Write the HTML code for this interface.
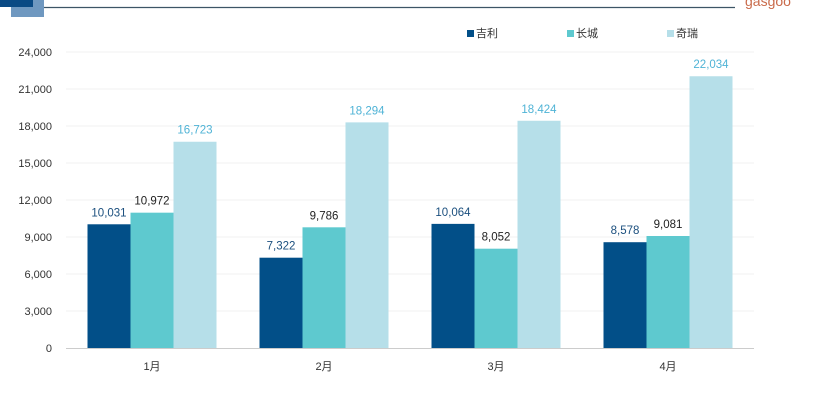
<!DOCTYPE html>
<html><head><meta charset="utf-8"><style>
body{margin:0;background:#fff;}
svg{display:block;font-family:"Liberation Sans","Noto Sans CJK SC",sans-serif;}
</style></head><body>
<svg id="c" width="820" height="400">
<rect x="11" y="0" width="33" height="17" fill="#6f98c0"/>
<rect x="0" y="0" width="33" height="7" fill="#0a4a84"/>
<line x1="44" y1="7.5" x2="735" y2="7.5" stroke="#3d5566" stroke-width="1.2"/>
<text x="745" y="6" font-size="14" fill="#c96a4a">gasgoo</text>
<g id="grid"></g><g id="bars"></g><g id="labels"></g>
<g id="legend"></g>
</svg>
<script>
const categories=["1月","2月","3月","4月"];
const seriesNames=["吉利","长城","奇瑞"];
const geely=[10031,7322,10064,8578];
const greatwall=[10972,9786,8052,9081];
const chery=[16723,18294,18424,22034];
const yTicks=[0,3000,6000,9000,12000,15000,18000,21000,24000];
const colors=["#024f88","#5ec9cf","#b6dfe9"];
const labelColors=["#1b4f7e","#222","#4fb3d6"];
const ns="http://www.w3.org/2000/svg";
const y0=348,y1=52,vmax=24000,x0=66,groupW=172,barW=43;
const y=v=>y0-(v/vmax)*(y0-y1);
const gx=i=>x0+i*groupW+groupW/2;
function mk(t,a,p){const e=document.createElementNS(ns,t);for(const k in a)e.setAttribute(k,a[k]);p.appendChild(e);return e;}
const grid=document.getElementById('grid'),bars=document.getElementById('bars'),labels=document.getElementById('labels'),legend=document.getElementById('legend');
yTicks.forEach(t=>{
 if(t>0){const l=mk('line',{x1:x0,x2:754,y1:y(t),y2:y(t),stroke:'#f0f0f0'},grid);
 
 }
 const tx=mk('text',{x:52,y:y(t)+4,'text-anchor':'end','font-size':11,fill:'#333'},grid);
 tx.textContent=t.toLocaleString('en-US');
 
 
});
const ax=mk('line',{x1:x0,x2:754,y1:y0+0.5,y2:y0+0.5,stroke:'#ccc'},grid);


const all=[geely,greatwall,chery];
categories.forEach((c,i)=>{
 all.forEach((s,j)=>{
  const bx=gx(i)-1.5*barW+j*barW;
  const r=mk('rect',{x:bx,y:y(s[i]),width:barW,height:y0-y(s[i]),fill:colors[j]},bars);
  
  
  const t=mk('text',{x:bx+barW/2,y:y(s[i])-8,'text-anchor':'middle','font-size':11.5,fill:labelColors[j]},labels);
  t.textContent=s[i].toLocaleString('en-US');
  
  
 });
 const ct=mk('text',{x:gx(i),y:370,'text-anchor':'middle','font-size':11,fill:'#333'},labels);
 ct.textContent=c;
 
 
});
seriesNames.forEach((n,j)=>{
 const lx=467+j*100;
 const sq=mk('rect',{x:lx,y:30,width:7,height:7,fill:colors[j]},legend);
 
 
 const t=mk('text',{x:lx+9,y:37,'font-size':11,fill:'#333'},legend);
 t.textContent=n;
 
 
});
</script>
</body></html>
